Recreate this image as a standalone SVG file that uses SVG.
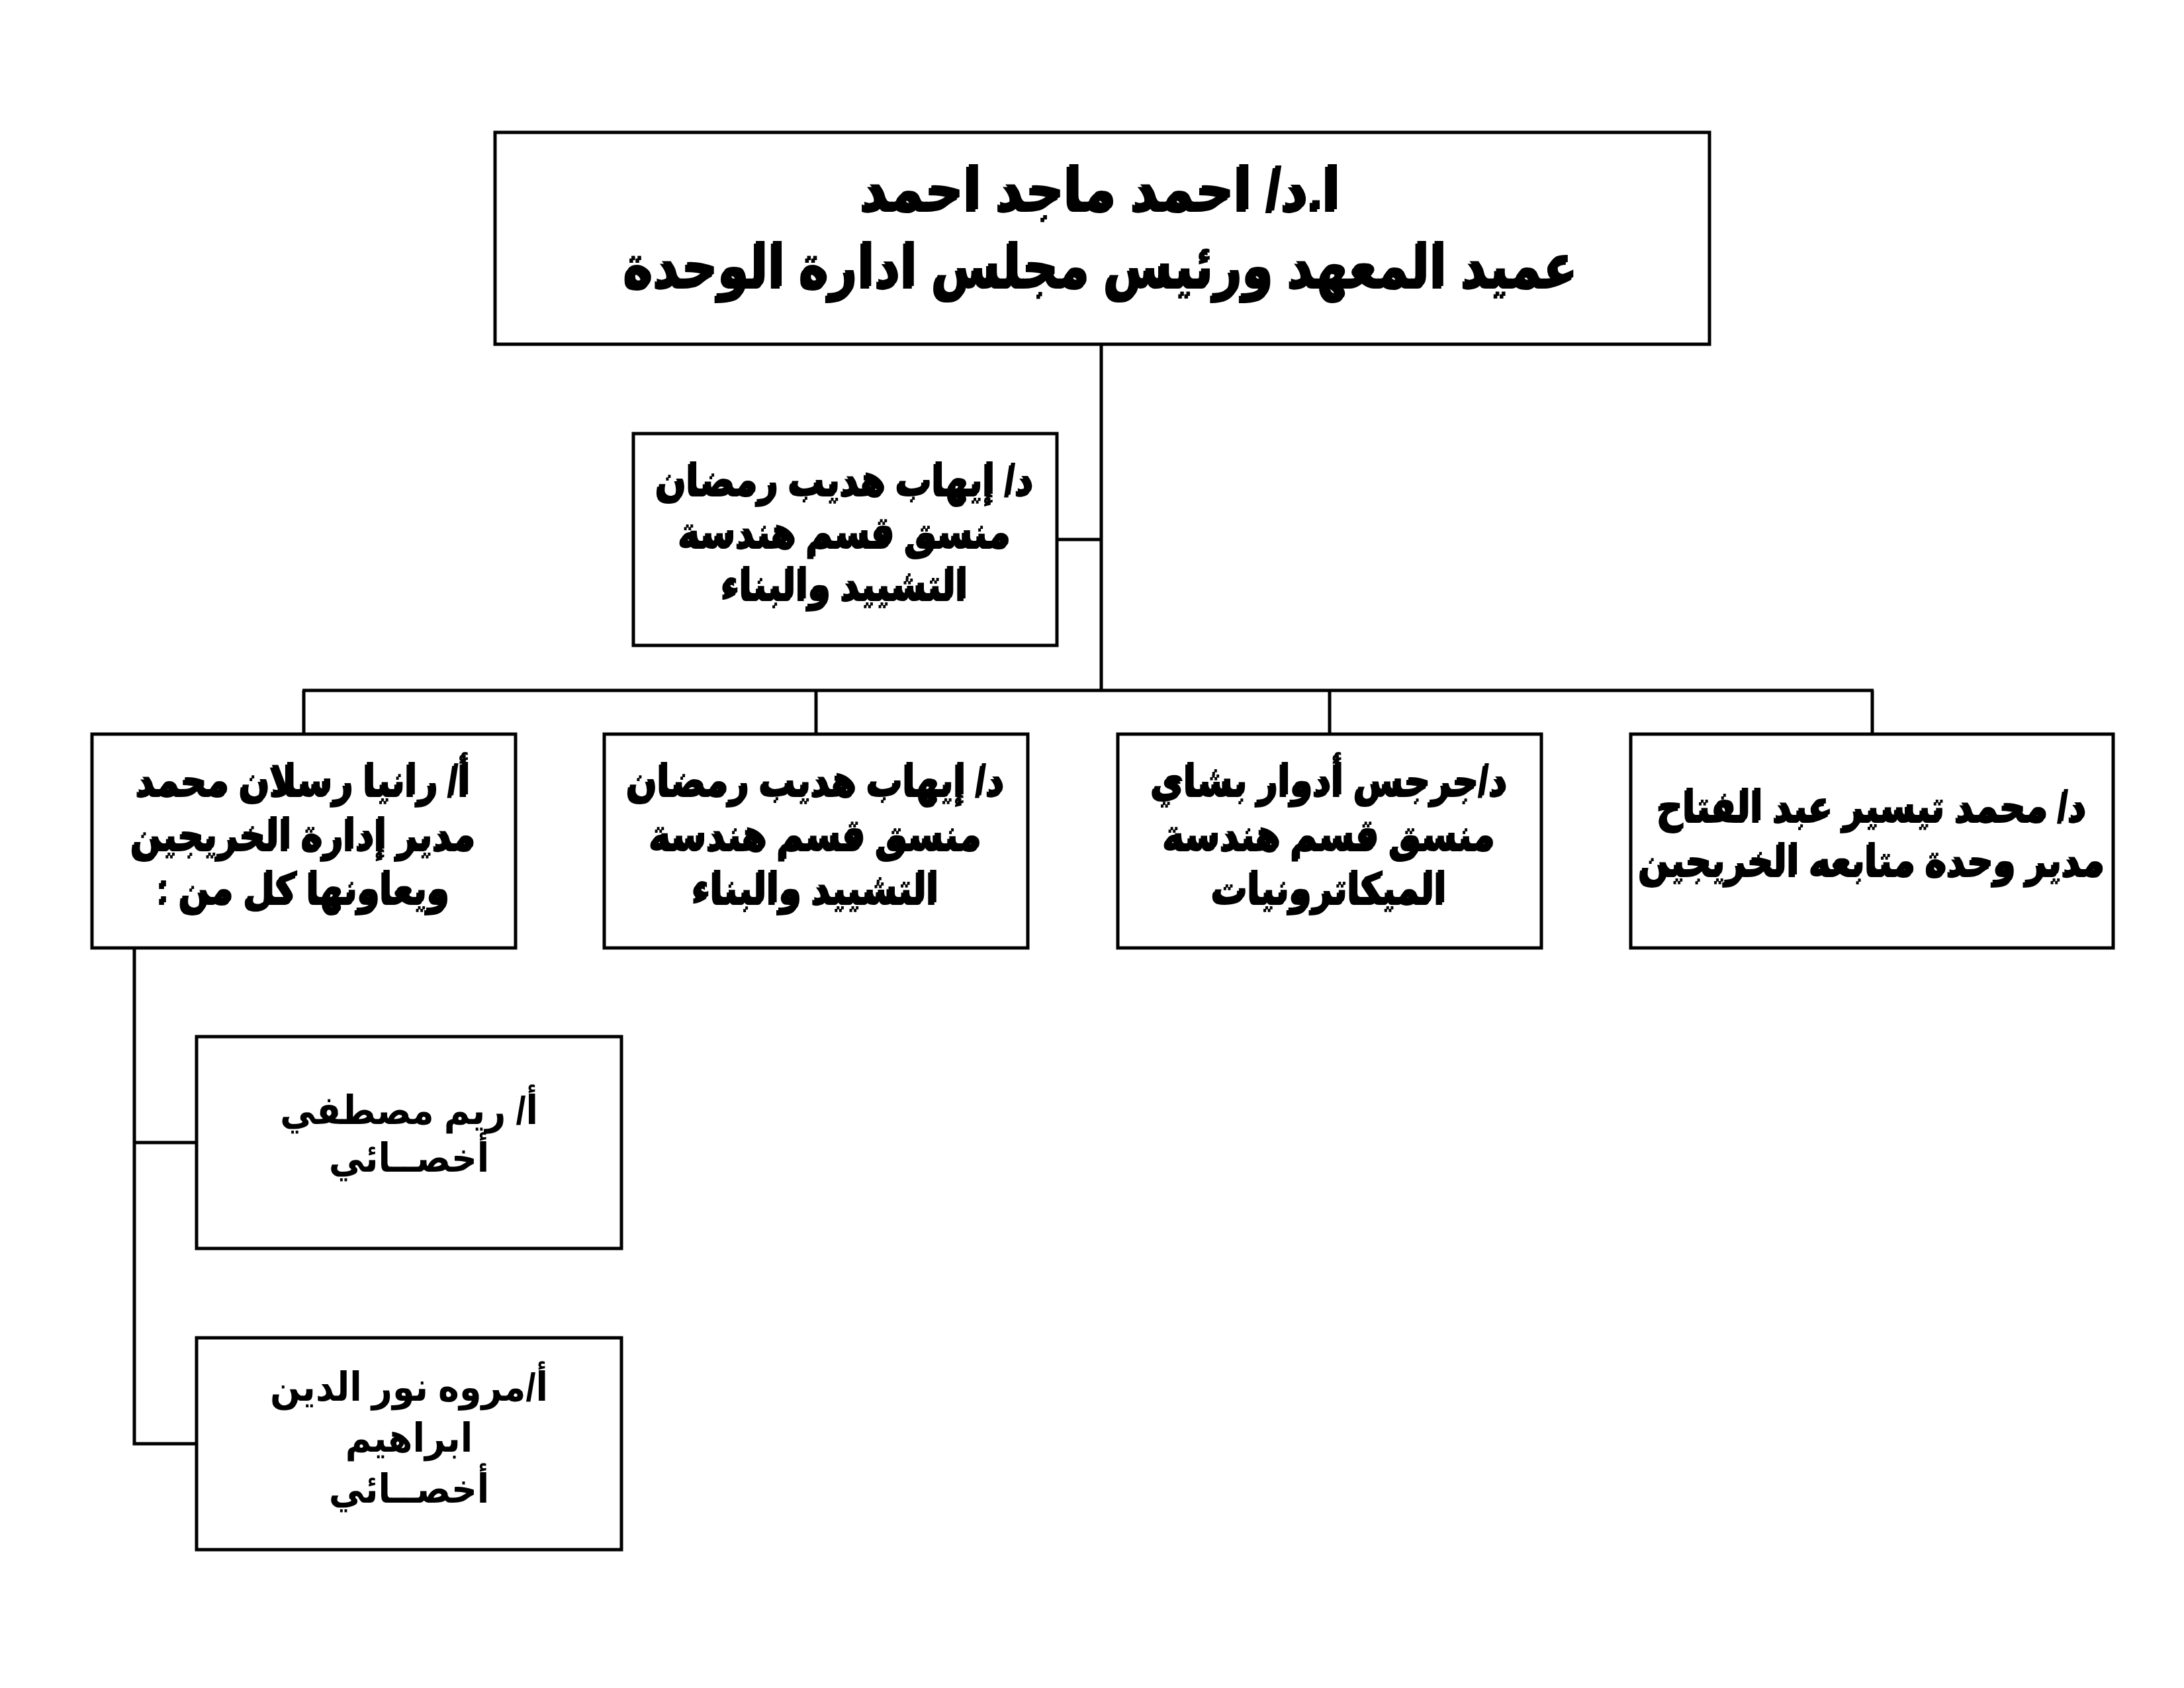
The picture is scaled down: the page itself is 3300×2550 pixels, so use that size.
<svg xmlns="http://www.w3.org/2000/svg" width="3300" height="2550" viewBox="0 0 3300 2550">
<style>
.box{fill:#fff;stroke:#000;stroke-width:5}
.ln{fill:none;stroke:#000;stroke-width:5}
.t{font-family:"Liberation Sans","DejaVu Sans",sans-serif;font-weight:bold;fill:#000;text-anchor:middle;direction:rtl;unicode-bidi:embed}
.sh{filter:url(#shadow)}
.m{font-size:64px}
.s{font-size:60px}
</style>
<defs>
<filter id="shadow" x="-5%" y="-20%" width="110%" height="140%">
<feOffset in="SourceAlpha" dx="-4" dy="4" result="o"/>
<feMerge><feMergeNode in="o"/><feMergeNode in="SourceGraphic"/></feMerge>
</filter>
</defs>
<rect width="3300" height="2550" fill="#fff"/>
<g id="connectors">
<line class="ln" x1="1664" y1="520" x2="1664" y2="1043"/>
<line class="ln" x1="1597" y1="815" x2="1664" y2="815"/>
<line class="ln" x1="457" y1="1043" x2="2831" y2="1043"/>
<line class="ln" x1="459" y1="1043" x2="459" y2="1109"/>
<line class="ln" x1="1233" y1="1043" x2="1233" y2="1109"/>
<line class="ln" x1="2009" y1="1043" x2="2009" y2="1109"/>
<line class="ln" x1="2829" y1="1043" x2="2829" y2="1109"/>
<polyline class="ln" points="203,1432 203,2181 297,2181"/>
<line class="ln" x1="203" y1="1726" x2="297" y2="1726"/>
</g>
<g id="dean">
<rect class="box" x="748" y="200" width="1835" height="320"/>
<text class="t sh" font-size="90" transform="translate(1664 0) scale(0.88 1)" x="0" y="316">ا.د/ احمد ماجد احمد</text>
<text class="t sh" font-size="90" transform="translate(1664 0) scale(0.84 1)" x="0" y="432">عميد المعهد ورئيس مجلس ادارة الوحدة</text>
</g>
<g id="coord-top">
<rect class="box" x="957" y="655" width="640" height="320"/>
<g transform="translate(1277 0) scale(0.85 1)">
<text class="t sh m" x="0" y="746">د/ إيهاب هديب رمضان</text>
<text class="t sh m" x="0" y="825">منسق قسم هندسة</text>
<text class="t sh m" x="0" y="904">التشييد والبناء</text>
</g>
</g>
<g id="rania">
<rect class="box" x="139" y="1109" width="640" height="323"/>
<g transform="translate(459 0) scale(0.85 1)">
<text class="t sh m" x="0" y="1200">أ/ رانيا رسلان محمد</text>
<text class="t sh m" x="0" y="1282">مدير إدارة  الخريجين</text>
<text class="t sh m" x="0" y="1363">ويعاونها كل من :</text>
</g>
</g>
<g id="ehab">
<rect class="box" x="913" y="1109" width="640" height="323"/>
<g transform="translate(1233 0) scale(0.85 1)">
<text class="t sh m" x="0" y="1200">د/ إيهاب هديب رمضان</text>
<text class="t sh m" x="0" y="1282">منسق قسم هندسة</text>
<text class="t sh m" x="0" y="1363">التشييد والبناء</text>
</g>
</g>
<g id="gerges">
<rect class="box" x="1689" y="1109" width="640" height="323"/>
<g transform="translate(2009 0) scale(0.85 1)">
<text class="t sh m" x="0" y="1200">د/جرجس أدوار بشاي</text>
<text class="t sh m" x="0" y="1282">منسق قسم هندسة</text>
<text class="t sh m" x="0" y="1363">الميكاترونيات</text>
</g>
</g>
<g id="mohamed">
<rect class="box" x="2464" y="1109" width="729" height="323"/>
<g transform="translate(2829 0) scale(0.85 1)">
<text class="t sh m" x="0" y="1239">د/ محمد تيسير عبد الفتاح</text>
<text class="t sh m" x="0" y="1321">مدير وحدة متابعه الخريجين</text>
</g>
</g>
<g id="reem">
<rect class="box" x="297" y="1566" width="642" height="320"/>
<g transform="translate(618 0) scale(0.9 1)">
<text class="t s" x="0" y="1698">أ/ ريم مصطفي</text>
<text class="t s" x="0" y="1770">أخصــائي</text>
</g>
</g>
<g id="marwa">
<rect class="box" x="297" y="2021" width="642" height="320"/>
<g transform="translate(618 0) scale(0.9 1)">
<text class="t s" x="0" y="2116">أ/مروه نور الدين</text>
<text class="t s" x="0" y="2193">ابراهيم</text>
<text class="t s" x="0" y="2270">أخصــائي</text>
</g>
</g>
</svg>
